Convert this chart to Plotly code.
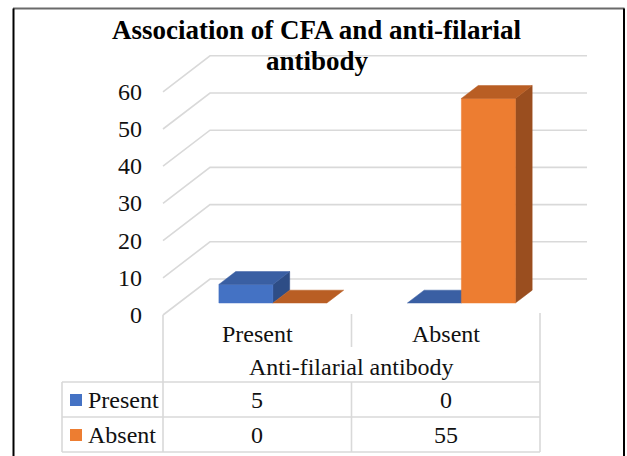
import plotly.graph_objects as go

# ---------------- data ----------------
categories = ["Present", "Absent"]          # Anti-filarial antibody
series_names = ["Present", "Absent"]        # CFA
present_values = [5, 0]
absent_values = [0, 55]
y_ticks = [0, 10, 20, 30, 40, 50, 60]
title_lines = ["Association of CFA and anti-filarial", "antibody"]
axis_title = "Anti-filarial antibody"

series_values = [present_values, absent_values]
front_colors = ["#4472C4", "#ED7D31"]
top_colors = ["#3A5FA3", "#B95E24"]
side_colors = ["#2E4D86", "#9A4E1F"]

W, H = 627, 456
FONT = "Liberation Serif"

# ---------------- geometry (pseudo-3D) ----------------
PX_PER_CAT = 188.5
PX_PER_UNIT = 3.72
X0_PX, Y0_PX = 163, 315            # front-left corner of the floor (px)


def X_of_px(px):
    return -0.5 + (px - X0_PX) / PX_PER_CAT


def Y_of_py(py):
    return (Y0_PX - py) / PX_PER_UNIT


DEPTH_X = 47 / PX_PER_CAT           # shift for full depth (category units)
DEPTH_Y = 36 / PX_PER_UNIT          # shift for full depth (value units)
D1, D2 = 0.333, 0.69                # bar front / back depth
BW = 54 / PX_PER_CAT                # bar width (category units)
GRID = "#D9D9D9"

fig = go.Figure()

# gridlines: back wall + left wall diagonals
gx, gy = [], []
for v in y_ticks:
    gx += [-0.5, -0.5 + DEPTH_X, len(categories) - 0.5 + DEPTH_X, None]
    gy += [v, v + DEPTH_Y, v + DEPTH_Y, None]
fig.add_trace(go.Scatter(x=gx, y=gy, mode="lines",
                         line=dict(color=GRID, width=1.6),
                         hoverinfo="skip", showlegend=False))


def poly(xs, ys, color):
    fig.add_trace(go.Scatter(x=xs + [xs[0]], y=ys + [ys[0]], mode="lines",
                             fill="toself", fillcolor=color,
                             line=dict(color=color, width=0.5),
                             hoverinfo="skip", showlegend=False))


ddx = (D2 - D1) * DEPTH_X
ddy = (D2 - D1) * DEPTH_Y
for ci, cat in enumerate(categories):
    for si, name in enumerate(series_names):
        v = series_values[si][ci]
        xl = ci + (si - 1) * BW + D1 * DEPTH_X
        xr = xl + BW
        base = D1 * DEPTH_Y
        top = base + v
        if v > 0:
            poly([xr, xr, xr + ddx, xr + ddx],
                 [base, top, top + ddy, base + ddy], side_colors[si])
            poly([xl, xr, xr, xl], [base, base, top, top], front_colors[si])
        poly([xl, xr, xr + ddx, xl + ddx],
             [top, top, top + ddy, top + ddy], top_colors[si])

# ---------------- table / frame lines ----------------
LINE = "#D9D9D9"


def seg(px0, py0, px1, py1, color=LINE, width=1.6):
    fig.add_shape(type="line", xref="x", yref="y",
                  x0=X_of_px(px0), y0=Y_of_py(py0),
                  x1=X_of_px(px1), y1=Y_of_py(py1),
                  line=dict(color=color, width=width))


n = len(categories)
left_px = X0_PX
right_px = X0_PX + n * PX_PER_CAT
seg(left_px, 315, left_px, 452)
seg(right_px, 313, right_px, 452)
for k in range(1, n):
    cx = X0_PX + k * PX_PER_CAT
    seg(cx, 314, cx, 347)
    seg(cx, 382, cx, 452)
for ry in [382, 417, 452]:
    seg(62, ry, right_px, ry)
seg(62, 382, 62, 452)

# ---------------- text ----------------
def ann(text, px, py, size=24, xanchor="center", yanchor="middle", bold=False, color="#111111"):
    fig.add_annotation(x=X_of_px(px), y=Y_of_py(py), xref="x", yref="y",
                       text=f"<b>{text}</b>" if bold else text,
                       showarrow=False, xanchor=xanchor, yanchor=yanchor,
                       font=dict(family=FONT, size=size, color=color))


for v in y_ticks:
    ann(str(v), 144, Y0_PX - v * PX_PER_UNIT, xanchor="right")

for ci, cat in enumerate(categories):
    cx = X0_PX + (ci + 0.5) * PX_PER_CAT
    ann(cat, cx, 334)
ann(axis_title, (left_px + right_px) / 2, 367)

row_centers = [400, 435]
for si, name in enumerate(series_names):
    ry = row_centers[si]
    fig.add_shape(type="rect", xref="x", yref="y",
                  x0=X_of_px(70), x1=X_of_px(82),
                  y0=Y_of_py(ry - 6), y1=Y_of_py(ry + 6),
                  fillcolor=front_colors[si], line=dict(width=0))
    ann(name, 86, ry, xanchor="left")
    for ci in range(n):
        cx = X0_PX + (ci + 0.5) * PX_PER_CAT
        ann(str(series_values[si][ci]), cx, ry)

ann(title_lines[0], 317, 30, size=27, bold=True, color="#000000")
ann(title_lines[1], 317, 61, size=27, bold=True, color="#000000")

# outer border
fig.add_shape(type="line", xref="paper", yref="paper",
              x0=13 / W, x1=624.5 / W, y0=1 - 8.5 / H, y1=1 - 8.5 / H,
              line=dict(color="#6a6a6a", width=2))
for bx in (13.5, 624):
    fig.add_shape(type="line", xref="paper", yref="paper",
                  x0=bx / W, x1=bx / W, y0=1 - 8.5 / H, y1=-0.05,
                  line=dict(color="#000000", width=2))

fig.update_layout(
    width=W, height=H,
    margin=dict(l=0, r=0, t=0, b=0),
    paper_bgcolor="white", plot_bgcolor="white",
    showlegend=False,
    xaxis=dict(range=[X_of_px(0), X_of_px(W)], visible=False, fixedrange=True),
    yaxis=dict(range=[Y_of_py(H), Y_of_py(0)], visible=False, fixedrange=True),
)

fig.write_html(
    "out.html",
    config={"displayModeBar": False},
    post_script="document.body.style.margin='0';document.body.style.overflow='hidden';",
)
